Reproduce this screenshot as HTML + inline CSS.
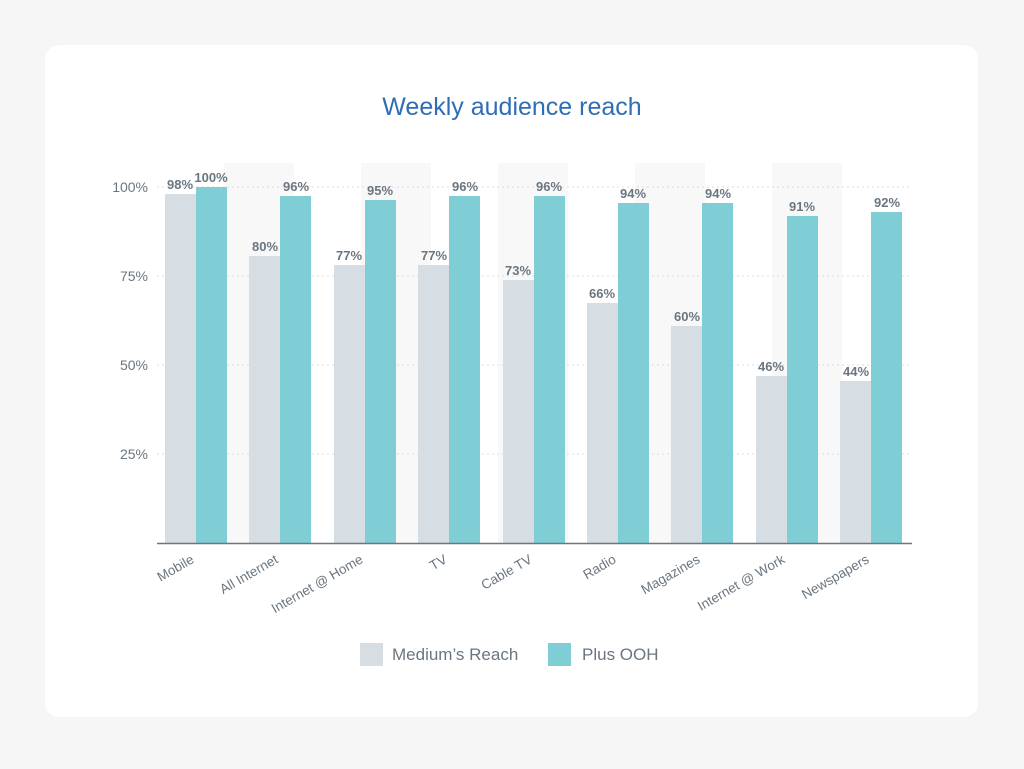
<!DOCTYPE html>
<html><head><style>
body{margin:0;width:1024px;height:764px;background:#f5f6f7;font-family:"Liberation Sans",sans-serif;}
</style></head><body>
<svg width="1024" height="764" xmlns="http://www.w3.org/2000/svg" font-family="Liberation Sans, sans-serif">
<rect x="0" y="0" width="1024" height="764" fill="#f6f6f7"/>
<rect x="45" y="45" width="933" height="672" rx="14" fill="#ffffff"/>
<text x="512" y="115" text-anchor="middle" font-size="25" fill="#2f6db5">Weekly audience reach</text>
<g fill="#f8f8f9">
<rect x="224" y="163" width="70" height="380"/>
<rect x="361" y="163" width="70" height="380"/>
<rect x="498" y="163" width="70" height="380"/>
<rect x="635" y="163" width="70" height="380"/>
<rect x="772" y="163" width="70" height="380"/>
</g>
<g stroke="#d8dcdf" stroke-dasharray="2,3" stroke-width="1">
<line x1="157" y1="187" x2="912" y2="187"/>
<line x1="157" y1="276" x2="912" y2="276"/>
<line x1="157" y1="365" x2="912" y2="365"/>
<line x1="157" y1="454" x2="912" y2="454"/>
</g>
<g font-size="14" fill="#6b7680" text-anchor="end">
<text x="148" y="192">100%</text><text x="148" y="281">75%</text><text x="148" y="370">50%</text><text x="148" y="459">25%</text>
</g>
<g fill="#d6dee3">
<rect x="165" y="194" width="31" height="349"/>
<rect x="249" y="256" width="31" height="287"/>
<rect x="334" y="265" width="31" height="278"/>
<rect x="418" y="265" width="31" height="278"/>
<rect x="503" y="280" width="31" height="263"/>
<rect x="587" y="303" width="31" height="240"/>
<rect x="671" y="326" width="31" height="217"/>
<rect x="756" y="376" width="31" height="167"/>
<rect x="840" y="381" width="31" height="162"/>
</g>
<g fill="#7fcdd5">
<rect x="196" y="187" width="31" height="356"/>
<rect x="280" y="196" width="31" height="347"/>
<rect x="365" y="200" width="31" height="343"/>
<rect x="449" y="196" width="31" height="347"/>
<rect x="534" y="196" width="31" height="347"/>
<rect x="618" y="203" width="31" height="340"/>
<rect x="702" y="203" width="31" height="340"/>
<rect x="787" y="216" width="31" height="327"/>
<rect x="871" y="212" width="31" height="331"/>
</g>
<g font-size="13" font-weight="bold" fill="#6b7680" text-anchor="middle">
<text x="180" y="189">98%</text><text x="211" y="182">100%</text>
<text x="265" y="251">80%</text><text x="296" y="191">96%</text>
<text x="349" y="260">77%</text><text x="380" y="195">95%</text>
<text x="434" y="260">77%</text><text x="465" y="191">96%</text>
<text x="518" y="275">73%</text><text x="549" y="191">96%</text>
<text x="602" y="298">66%</text><text x="633" y="198">94%</text>
<text x="687" y="321">60%</text><text x="718" y="198">94%</text>
<text x="771" y="371">46%</text><text x="802" y="211">91%</text>
<text x="856" y="376">44%</text><text x="887" y="207">92%</text>
</g>
<line x1="157" y1="543.5" x2="912" y2="543.5" stroke="#6b7680" stroke-width="1.5"/>
<g font-size="13.5" fill="#6b7680" text-anchor="end">
<text transform="translate(195,562) rotate(-30)">Mobile</text>
<text transform="translate(279,562) rotate(-30)">All Internet</text>
<text transform="translate(364,562) rotate(-30)">Internet @ Home</text>
<text transform="translate(448,562) rotate(-30)">TV</text>
<text transform="translate(533,562) rotate(-30)">Cable TV</text>
<text transform="translate(617,562) rotate(-30)">Radio</text>
<text transform="translate(701,562) rotate(-30)">Magazines</text>
<text transform="translate(786,562) rotate(-30)">Internet @ Work</text>
<text transform="translate(870,562) rotate(-30)">Newspapers</text>
</g>
<g fill="#6b7680">
<rect x="360" y="643" width="23" height="23" fill="#d6dee3"/>
<text x="392" y="660" font-size="17">Medium’s Reach</text>
<rect x="548" y="643" width="23" height="23" fill="#7fcdd5"/>
<text x="582" y="660" font-size="17">Plus OOH</text>
</g>
</svg>
</body></html>
